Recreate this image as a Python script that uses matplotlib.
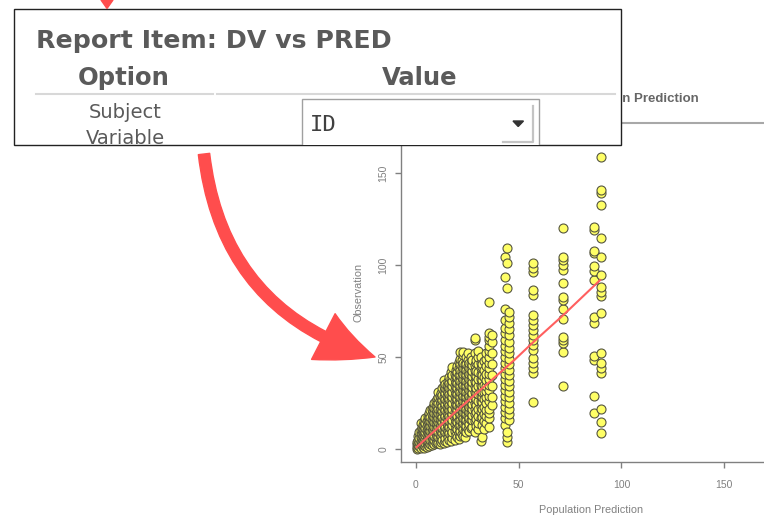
import matplotlib
matplotlib.use("Agg")
import matplotlib.pyplot as plt
from matplotlib.patches import Rectangle, Polygon, FancyArrowPatch
from matplotlib.lines import Line2D

W, H = 764, 517

# Population prediction levels and the observations seen at each level.
pred_levels = [0.3, 1.2, 1.7, 2.2, 2.8, 3.3, 3.9, 4.5, 5.2, 5.8,
               6.4, 7.0, 7.6, 8.3, 9.0, 9.6, 10.2, 10.8, 11.5, 12.2,
               12.9, 13.6, 14.3, 15.0, 15.7, 16.3, 17.0, 17.5, 18.8, 19.4,
               20.0, 20.7, 21.4, 22.2, 23.0, 23.8, 24.5, 25.3, 26.0, 26.7,
               27.3, 28.7, 29.3, 30.0, 31.5, 32.2, 33.0, 34.2, 35.5, 36.8,
               43.2, 44.5, 45.5, 57.0, 71.7, 86.7, 89.9]

dv_columns = [
    [0, 1.2, 2.5, 4],
    [0.5, 2, 3.5, 5, 7],
    [1.5, 4, 6, 9],
    [0.8, 2.5, 4.5, 6.5, 8.5, 10.5, 14],
    [2, 3.8, 6, 8, 11.5],
    [1, 3, 5, 7, 9, 11, 13],
    [0.5, 2.2, 4.2, 6.3, 8.8, 10.2, 12.4, 15],
    [1.5, 3.5, 5.5, 7.5, 9.5, 11.5, 14, 17],
    [1, 3, 5, 7.4, 10.3, 12.6, 15.2],
    [2, 4, 6.5, 9, 11, 13.5, 16, 18],
    [1.8, 3.6, 5.8, 8.2, 10.5, 12.2, 14.8, 17.2, 19.5],
    [2.5, 5, 7.5, 10, 12.5, 15, 17.5, 21],
    [2, 4.3, 6.8, 9.2, 11.7, 14.2, 16.4, 19, 22],
    [3, 5.5, 8, 10.5, 13, 15.5, 18, 20.5, 23],
    [2.6, 4.8, 7.2, 9.9, 12.1, 14.9, 17.3, 19.8, 22.4, 25],
    [3, 6, 9, 11.5, 14, 16.5, 19, 21.5, 24, 26],
    [4, 7.3, 10.6, 13.4, 15.8, 18.3, 20.9, 23.5, 27],
    [3.5, 6.5, 9.5, 12, 14.5, 17, 19.5, 22, 25, 28, 31],
    [2.8, 5.5, 8.4, 11.2, 13.9, 16.3, 18.6, 21.2, 23.9, 26.5, 29],
    [4, 7, 10, 13, 16, 19, 22, 25, 28, 30.5],
    [5, 8.6, 11.4, 14.6, 17.4, 20.5, 23.4, 26.4, 29.5, 33],
    [3.5, 7.5, 10.5, 13.5, 16.5, 19.5, 22.5, 25.5, 28.5, 31.5, 34, 37.5],
    [4.5, 6.2, 9.2, 12.2, 15.2, 18.2, 21.1, 24.2, 27.1, 30.2, 33, 35.5],
    [3.8, 8, 11, 14, 17, 20, 23, 26, 29, 32, 35],
    [6.5, 9.6, 12.8, 16, 19.1, 22.3, 25.2, 28, 31, 34.2, 37],
    [5, 8.5, 12, 15, 18, 21, 24, 27, 30, 33, 36, 39],
    [4.2, 7.4, 10.8, 14, 17.3, 20.6, 23.5, 26.3, 29.4, 32.5, 35.2, 38.6, 42],
    [6, 9.5, 13, 16, 19, 22, 25, 28, 31, 34, 37, 40, 44.7],
    [5, 10, 13.5, 17, 20, 23, 26, 29, 32, 35, 38, 41],
    [7.6, 11.5, 15.2, 18.4, 21.6, 24.4, 27.6, 30.4, 33.6, 36.5, 39.6, 43],
    [6.5, 11, 14.5, 18, 21, 24, 27, 30, 33, 36, 39, 42, 45],
    [5.5, 8.5, 12.3, 15.9, 19.6, 22.7, 25.5, 28.6, 31.7, 34.7, 37.6, 40.4,
     44, 47.5],
    [7, 10, 13, 16, 19, 22, 25, 28, 31, 34, 37, 40, 43, 46, 49, 52.7],
    [8.2, 11.8, 15.4, 18.2, 21.1, 24.1, 27.3, 30.3, 33.4, 36.3, 39.2, 42.4,
     45.3, 48.5],
    [7, 11, 14, 17, 20, 23, 26, 29, 32, 35, 38, 41, 44, 47, 51, 52.5],
    [6.5, 9.8, 13.2, 16.3, 19.5, 22.5, 25.4, 28.3, 31.5, 34.4, 37.3, 40.5,
     43.6, 46.2],
    [9, 12.5, 16, 19, 22, 25, 28, 31, 34, 37, 40, 43, 46, 50],
    [10.6, 14.8, 18.1, 21.3, 24.3, 27.2, 30.4, 33.3, 36.2, 39.3, 42.2, 45.2,
     48.4, 52],
    [10, 13.5, 17, 20, 23, 26, 29, 32, 35, 38, 41, 44, 47],
    [11.4, 16, 19.5, 22.6, 25.5, 28.4, 31.4, 34.3, 37.4, 40.6, 43.3, 46.5,
     50.2],
    [12, 15.5, 18.5, 21.5, 24.5, 27.5, 30.5, 33.5, 36.5, 39.5, 42.5, 45.5,
     48.5],
    [9.4, 15, 19, 22, 25, 28, 31, 34, 37, 40, 43, 45.6, 52, 59.2, 60.3],
    [12.3, 16.2, 20.2, 24.1, 27.3, 30.5, 33.4, 36.5, 39.6, 42.5, 46.5, 48.5],
    [11, 14, 18, 22, 26, 30, 34, 38, 42, 46, 50, 53],
    [4.5, 17, 20, 23, 26, 29, 32, 35, 38, 41, 44, 47, 50],
    [6.5, 13, 17.5, 21.5, 25.3, 28.5, 31.2, 34.3, 37.4, 40.4, 44.5, 46],
    [11, 15, 19, 23, 27, 31, 35, 39, 43, 48],
    [14, 18, 21, 25, 28, 31.5, 34.5, 37.5, 41, 45, 49, 52],
    [12, 17, 19.5, 22, 26, 29, 32, 35, 38, 41, 44, 47, 50, 53, 56, 59, 61, 63, 80],
    [24, 28, 34, 40, 46, 52, 58, 62],
    [13, 17, 20, 23, 26, 29, 32, 35, 38, 41, 44, 47, 50, 53, 56, 59, 63, 66, 70,
     76, 93.6, 104.5],
    [3.6, 6.7, 9.4, 87.3, 101, 109],
    [16, 19, 22, 25, 28, 31, 34, 37, 40, 43, 46, 49, 52, 55, 58, 62, 65, 68.5,
     72, 74.6],
    [25.4, 41.1, 43.9, 46.6, 49.3, 53.8, 56.5, 59.2, 62, 64.7, 67.4, 70.1,
     72.8, 83.7, 86.4, 96.2, 98.4, 101],
    [34.2, 52.9, 57.4, 59.2, 60.7, 70.5, 75.9, 81, 82.4, 90, 97.3, 100,
     102.7, 104.5, 120],
    [19.7, 28.8, 48.4, 50.5, 68.6, 71.9, 91.8, 96.9, 99.5, 106.5, 107.8,
     119, 120.5],
    [8.9, 14.8, 21.7, 41.3, 44, 46.7, 52.2, 73.7, 83.2, 85.5, 88.2, 94.6,
     104.5, 114.8, 132.6, 139, 140.8, 158.9],
]

# smooth trend line
smooth_pred = [0.3, 20, 35, 48, 57, 71.7, 89.6]
smooth_dv = [1.0, 21, 35.7, 48.5, 58, 72.8, 91.8]

x_ticks = [0, 50, 100, 150]
y_ticks = [0, 50, 100, 150]


def fx(px):
    return px / W


def fy(py):
    return 1 - py / H


fig = plt.figure(figsize=(W / 100, H / 100), dpi=100)
fig.patch.set_facecolor("white")

# --- the plot underneath ---
ax = fig.add_axes([fx(401), fy(462), fx(764) - fx(401), fy(130) - fy(462)])
ax.set_xlim(-7.3, 169.4)
ax.set_ylim(-7.07, 173.4)

xs, ys = [], []
for p, col in zip(pred_levels, dv_columns):
    xs += [p] * len(col)
    ys += col
ax.scatter(xs, ys, s=42, c="#ffff66", edgecolors="#55553f",
           linewidths=0.8, zorder=2)
ax.plot(smooth_pred, smooth_dv, color="#ff5f5f", lw=1.5, zorder=3)

for side in ("top", "right"):
    ax.spines[side].set_visible(False)
for side in ("left", "bottom"):
    ax.spines[side].set_color("#808080")
    ax.spines[side].set_linewidth(1.0)

ax.set_xticks(x_ticks)
ax.set_yticks(y_ticks)
ax.tick_params(axis="both", direction="out", length=4.5, width=1.0,
               color="#808080", labelcolor="#808080", labelsize=7.5)
ax.tick_params(axis="x", pad=8.7)
ax.tick_params(axis="y", pad=4.4)
for lab in ax.get_xticklabels() + ax.get_yticklabels():
    lab.set_family("Liberation Sans")
for lab in ax.get_yticklabels():
    lab.set_rotation(90)
    lab.set_va("center")

fig.text(fx(591), fy(513), "Population Prediction", ha="center",
         va="baseline", fontsize=7.8, color="#808080",
         family="Liberation Sans")
fig.text(fx(358), fy(292), "Observation", ha="center", va="center",
         rotation=90, fontsize=7.8, color="#808080",
         family="Liberation Sans")

# partly hidden panel title and its rule
fig.text(fx(699), fy(101.7), "Population Prediction", ha="right",
         va="baseline", fontsize=9.5, fontweight="bold", color="#666666",
         family="Liberation Sans", zorder=1)
fig.add_artist(Line2D([fx(400), fx(764)], [fy(123), fy(123)],
                      transform=fig.transFigure, color="#a8a8a8", lw=1.5,
                      zorder=1))

# --- the option panel pasted on top ---
box = Rectangle((fx(14), fy(145)), fx(620.7) - fx(14), fy(9.3) - fy(145),
                transform=fig.transFigure, facecolor="white",
                edgecolor="#222222", lw=1.0, zorder=10)
fig.add_artist(box)

ui = "DejaVu Sans"
fig.text(fx(36), fy(48.3), "Report Item: DV vs PRED", ha="left",
         va="baseline", fontsize=18.2, fontweight="bold", color="#5a5a5a",
         family=ui, zorder=12)
fig.text(fx(124), fy(85), "Option", ha="center", va="baseline",
         fontsize=17.5, fontweight="bold", color="#5a5a5a", family=ui,
         zorder=12)
fig.text(fx(420), fy(85), "Value", ha="center", va="baseline",
         fontsize=17.5, fontweight="bold", color="#5a5a5a", family=ui,
         zorder=12)
for x0, x1 in ((36, 213), (217, 615)):
    fig.add_artist(Line2D([fx(x0), fx(x1)], [fy(94.3), fy(94.3)],
                          transform=fig.transFigure, color="#d8d8d8",
                          lw=1.5, zorder=11))

fig.text(fx(125), fy(118), "Subject", ha="center", va="baseline",
         fontsize=14, color="#5a5a5a", family=ui, zorder=12)
t = fig.text(fx(125), fy(143.5), "Variable", ha="center", va="baseline",
             fontsize=14, color="#5a5a5a", family=ui, zorder=12)
t.set_clip_path(box)

# dropdown
drop = Rectangle((fx(302), fy(152)), fx(539) - fx(302), fy(99) - fy(152),
                 transform=fig.transFigure, facecolor="white",
                 edgecolor="#a0a0a0", lw=1.0, zorder=11)
fig.add_artist(drop)
drop.set_clip_path(box)
fig.add_artist(Line2D([fx(533), fx(533), fx(503)],
                      [fy(106), fy(142), fy(142)],
                      transform=fig.transFigure, color="#c4c4c4", lw=1.6,
                      zorder=12))
fig.add_artist(Polygon([(fx(513), fy(121)), (fx(523.5), fy(121)),
                        (fx(518.2), fy(126.5))], closed=True,
                       transform=fig.transFigure, color="#333333",
                       zorder=12))
fig.text(fx(310), fy(130.7), "ID", ha="left", va="baseline", fontsize=16,
         color="#404040", family="DejaVu Sans Mono", zorder=12)

# --- red arrows ---
arrow_red = "#ff4d4d"
fig.add_artist(FancyArrowPatch(
    posA=(fx(204), fy(154)), posB=(fx(375), fy(357)),
    transform=fig.transFigure, connectionstyle="arc3,rad=0.33",
    arrowstyle="simple,head_width=3.7,head_length=4.0,tail_width=0.82",
    mutation_scale=10, color=arrow_red, shrinkA=0, shrinkB=0, zorder=15))
fig.add_artist(Polygon([(fx(101), fy(0)), (fx(113), fy(0)),
                        (fx(107), fy(8.5))], closed=True,
                       transform=fig.transFigure, color=arrow_red,
                       zorder=15))

fig.savefig("out.png", dpi=100)
